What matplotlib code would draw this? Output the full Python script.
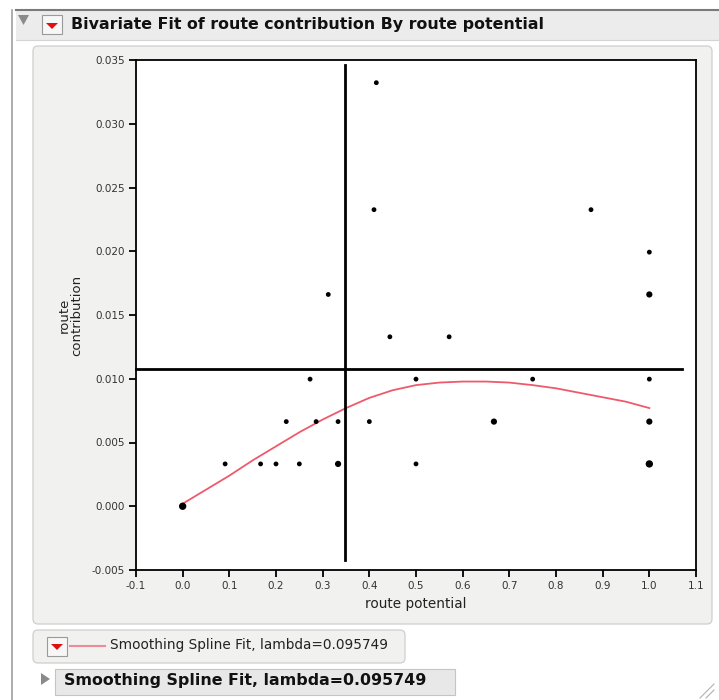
import matplotlib
matplotlib.use("Agg")
import matplotlib.pyplot as plt
from matplotlib.patches import FancyBboxPatch, Rectangle, Polygon

# ---- data ----
route_potential = [0.0, 0.091, 0.167, 0.2, 0.25, 0.333, 0.5, 0.667, 1.0, 1.0, 1.0, 1.0, 1.0,
                   0.875, 0.75, 0.571, 0.444, 0.5, 0.4, 0.333, 0.286, 0.222, 0.273, 0.312,
                   0.415, 0.41]
route_contribution = [0.0, 0.00332, 0.00332, 0.00332, 0.00332, 0.00332, 0.00332, 0.00664,
                      0.00332, 0.00664, 0.00997, 0.01661, 0.01993, 0.02326, 0.00997, 0.01329,
                      0.01329, 0.00997, 0.00664, 0.00664, 0.00664, 0.00664, 0.00997, 0.01661,
                      0.03322, 0.02326]
point_count = [3, 1, 1, 1, 1, 2, 1, 2, 3, 2, 1, 2, 1, 1, 1, 1, 1, 1, 1, 1, 1, 1, 1, 1, 1, 1]

spline_x = [0.0, 0.05, 0.1, 0.15, 0.2, 0.25, 0.3, 0.35, 0.4, 0.45, 0.5, 0.55, 0.6, 0.65,
            0.7, 0.75, 0.8, 0.85, 0.9, 0.95, 1.0]
spline_y = [0.0002, 0.0013, 0.0024, 0.0036, 0.0047, 0.0058, 0.0068, 0.0077, 0.0085, 0.0091,
            0.0095, 0.0097, 0.00978, 0.00978, 0.0097, 0.0095, 0.00925, 0.0089, 0.00855, 0.0082,
            0.0077]

mean_x = 0.348
mean_y = 0.0108

x_ticks = [-0.1, 0.0, 0.1, 0.2, 0.3, 0.4, 0.5, 0.6, 0.7, 0.8, 0.9, 1.0, 1.1]
y_ticks = [-0.005, 0.0, 0.005, 0.010, 0.015, 0.020, 0.025, 0.030, 0.035]

title = "Bivariate Fit of route contribution By route potential"
legend_label = "Smoothing Spline Fit, lambda=0.095749"

W, H = 719, 700
fig = plt.figure(figsize=(W / 100, H / 100), dpi=100)
fig.patch.set_facecolor("white")

# ---- chrome layer in pixel coordinates ----
bg = fig.add_axes([0, 0, 1, 1], zorder=0)
bg.set_xlim(0, W)
bg.set_ylim(H, 0)
bg.axis("off")

bg.plot([12, 12], [10, 700], color="#a0a0a0", lw=1.2)
bg.add_patch(Rectangle((16, 10), W - 16, 30, facecolor="#ececec", edgecolor="none"))
bg.plot([16, W], [10, 10], color="#7a7a7a", lw=1.5)
bg.plot([16, W], [40, 40], color="#d4d4d4", lw=0.8)
bg.add_patch(Polygon([[18, 15], [29, 15], [23.5, 25]], closed=True, facecolor="#8a8a8a", edgecolor="none"))
bg.add_patch(Rectangle((42, 15), 20, 19, facecolor="#f7f7f7", edgecolor="#9a9a9a", lw=0.8))
bg.add_patch(Polygon([[46, 23], [58, 23], [52, 29]], closed=True, facecolor="#dd1111", edgecolor="none"))
bg.text(71, 25, title, fontsize=11.4, fontweight="bold", color="#111111", va="center", ha="left")

bg.add_patch(FancyBboxPatch((33, 46), 679, 578, boxstyle="round,pad=0,rounding_size=5",
                            facecolor="#f1f1ef", edgecolor="#cfcfcf", lw=0.9))

bg.add_patch(FancyBboxPatch((33, 630), 372, 33, boxstyle="round,pad=0,rounding_size=5",
                            facecolor="#f1f1ef", edgecolor="#cfcfcf", lw=0.9))
bg.add_patch(Rectangle((47, 637), 20, 19, facecolor="#f7f7f7", edgecolor="#9a9a9a", lw=0.8))
bg.add_patch(Polygon([[51, 644], [63, 644], [57, 650]], closed=True, facecolor="#dd1111", edgecolor="none"))
bg.plot([70, 105], [646, 646], color="#f08a96", lw=1.5)
bg.text(110, 645, legend_label, fontsize=9.8, color="#222222", va="center", ha="left")

bg.add_patch(Rectangle((55, 669), 400, 26, facecolor="#e8e8e8", edgecolor="#c4c4c4", lw=0.8))
bg.add_patch(Polygon([[41, 673], [41, 685], [50, 679]], closed=True, facecolor="#8a8a8a", edgecolor="none"))
bg.text(64, 680, legend_label, fontsize=11.4, fontweight="bold", color="#111111", va="center", ha="left")

bg.plot([700, 714], [698, 684], color="#b0b0b0", lw=0.8)
bg.plot([706, 714], [698, 690], color="#b0b0b0", lw=0.8)

# ---- main plot ----
left, right, top, bottom = 136, 696, 60, 570
ax = fig.add_axes([left / W, 1 - bottom / H, (right - left) / W, (bottom - top) / H], zorder=1)
ax.set_facecolor("white")
ax.set_xlim(-0.1, 1.1)
ax.set_ylim(-0.005, 0.035)
ax.set_xticks(x_ticks)
ax.set_xticklabels([f"{t:.1f}" for t in x_ticks])
ax.set_yticks(y_ticks)
ax.set_yticklabels([f"{t:.3f}" for t in y_ticks])
for s in ax.spines.values():
    s.set_linewidth(1.3)
    s.set_color("black")
ax.tick_params(axis="both", direction="out", length=5, width=1.3, labelsize=7.5,
               labelcolor="#333333", pad=3)

sizes = [12 + 8 * (c - 1) for c in point_count]
ax.scatter(route_potential, route_contribution, s=sizes, color="black", zorder=3, linewidths=0)

ax.plot(spline_x, spline_y, color="#ee5a6c", lw=1.3, zorder=2)

ax.plot([mean_x, mean_x], [-0.0042, 0.0346], color="black", lw=2, zorder=2)
ax.plot([-0.1, 1.07], [mean_y, mean_y], color="black", lw=2, zorder=2, clip_on=False)

ax.set_xlabel("route potential", fontsize=9.8, color="#222222", labelpad=4)
ax.set_ylabel("route\ncontribution", fontsize=9.5, color="#222222", labelpad=6, linespacing=1.0)

fig.savefig("out.png", dpi=100, facecolor=fig.get_facecolor())
